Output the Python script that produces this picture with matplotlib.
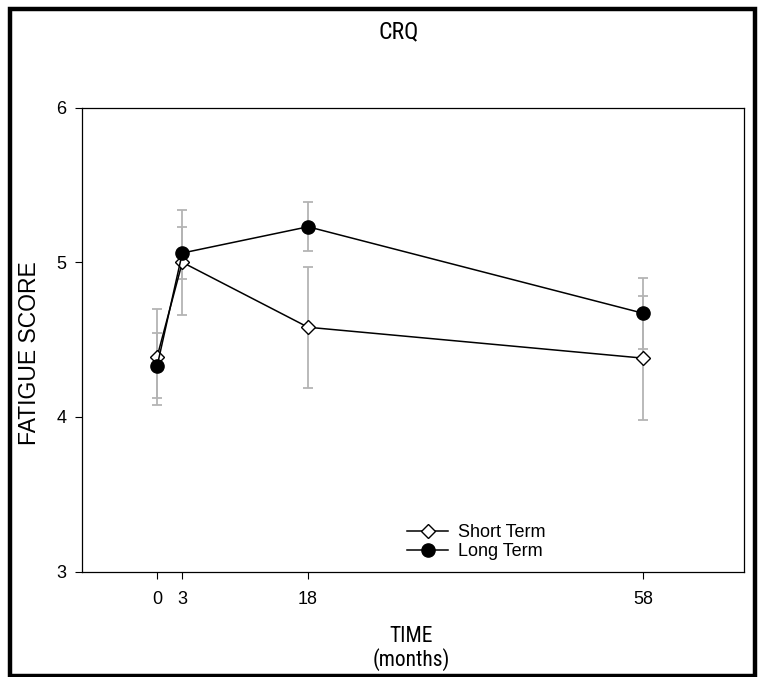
import matplotlib.pyplot as plt
from matplotlib import font_manager
from matplotlib.patches import Rectangle

# данные
months = [0, 3, 18, 58]
short_term = [4.39, 5.00, 4.58, 4.38]
short_err = [0.31, 0.34, 0.39, 0.40]
long_term = [4.33, 5.06, 5.23, 4.67]
long_err = [0.21, 0.17, 0.16, 0.23]

plt.rcParams['font.family'] = ['Liberation Sans', 'DejaVu Sans']

# узкий шрифт для заголовка и подписи оси X, если он есть
names = {f.name for f in font_manager.fontManager.ttflist}
if 'Roboto Condensed' in names:
    narrow = ['Roboto Condensed', 'Liberation Sans']
    narrow_size = 15.5
else:
    narrow = ['Liberation Sans', 'DejaVu Sans']
    narrow_size = 13.5

fig = plt.figure(figsize=(7.73, 6.77), dpi=100)
ax = fig.add_axes([0.1057, 0.1558, 0.8568, 0.6851])

# рамка вокруг всего рисунка
fig.patches.append(Rectangle((9.5 / 773, 1 - 676 / 677), (755 - 9.5) / 773, (676 - 9) / 677,
                             transform=fig.transFigure, fill=False, lw=3.2, ec='black'))

ax.errorbar(months, short_term, yerr=short_err, fmt='none', ecolor='#b4b4b4',
            elinewidth=1.3, capsize=3.6, capthick=1.3, zorder=1)
ax.errorbar(months, long_term, yerr=long_err, fmt='none', ecolor='#b4b4b4',
            elinewidth=1.3, capsize=3.6, capthick=1.3, zorder=1)

ax.plot(months, short_term, color='black', lw=1.1, marker='D', ms=7,
        mfc='white', mec='black', mew=1.0, label='Short Term', zorder=3)
ax.plot(months, long_term, color='black', lw=1.1, marker='o', ms=9.5,
        mfc='black', mec='black', label='Long Term', zorder=3)

ax.set_xlim(-9, 70)
ax.set_ylim(3, 6)
ax.set_xticks(months)
ax.set_yticks([3, 4, 5, 6])
ax.tick_params(direction='out', length=5, width=0.8, labelsize=13, pad=6)
ax.tick_params(axis='x', pad=9)
for s in ax.spines.values():
    s.set_linewidth(0.9)

ax.set_ylabel('FATIGUE SCORE', fontsize=16.5)
ax.yaxis.set_label_coords(-0.062, 0.47)
ax.set_xlabel('TIME\n(months)', fontsize=narrow_size, family=narrow, linespacing=1.05)
ax.xaxis.set_label_coords(0.497, -0.118)
fig.text(0.516, 1 - 32 / 677, 'CRQ', ha='center', va='center',
         fontsize=17, family=narrow)

ax.legend(frameon=False, loc='lower left', bbox_to_anchor=(0.491, 0.025), fontsize=13,
          handlelength=2.3, handletextpad=0.55, labelspacing=0.1,
          borderpad=0, borderaxespad=0)

fig.savefig('out.png', dpi=100)
